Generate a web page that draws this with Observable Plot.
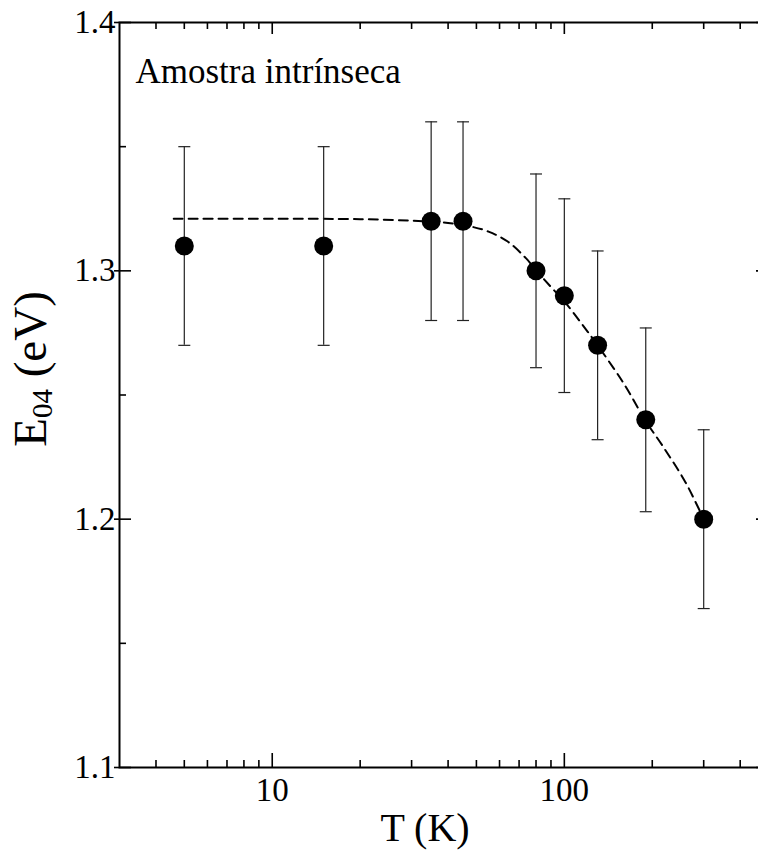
<!DOCTYPE html>
<html><head><meta charset="utf-8">
<script src="https://cdn.jsdelivr.net/npm/d3@7"></script>
<script src="https://cdn.jsdelivr.net/npm/@observablehq/plot@0.6"></script>
<style>
html,body{margin:0;padding:0;background:#fff;overflow:hidden;}
svg{max-width:none !important;}
</style>
</head><body><div id="chart"></div>
<script>
// Measured data
const temperatures = [5, 15, 35, 45, 80, 100, 130, 190, 300];
const energies     = [1.310, 1.310, 1.320, 1.320, 1.300, 1.290, 1.270, 1.240, 1.200];
const errors       = [0.040, 0.040, 0.040, 0.040, 0.039, 0.039, 0.038, 0.037, 0.036];
// Dashed fit curve
const fitT = [4.6, 10, 20, 30, 40, 48, 55, 64, 74, 80, 90, 100, 115, 130, 160, 190, 219, 260, 300];
const fitE = [1.3210, 1.3210, 1.3208, 1.3202, 1.3193, 1.3178, 1.3158, 1.3118, 1.3050, 1.3003, 1.2935, 1.2877, 1.2785, 1.2700, 1.2545, 1.2395, 1.2288, 1.2148, 1.2000];
// Ticks
const xMajorTicks = [10, 100];
const xMinorTicks = [4, 5, 6, 7, 8, 9, 20, 30, 40, 50, 60, 70, 80, 90, 200, 300, 400];
const yMajorTicks = [1.1, 1.2, 1.3, 1.4];
const yMinorTicks = [1.15, 1.25, 1.35];
const xLabel = "T (K)";
const yLabel = "E04 (eV)";
const note = "Amostra intrínseca";

const points = temperatures.map((T, i) => ({T, E: energies[i], err: errors[i]}));
const fit = fitT.map((T, i) => ({T, E: fitE[i]}));

const W = 790, H = 850, mL = 119, mR = 22, mT = 22, mB = 83;
const innerW = W - mL - mR, innerH = H - mT - mB;
const font = "Liberation Serif";
const capSymbol = {draw(ctx, size) { const w = Math.sqrt(size / Math.PI); ctx.moveTo(-w, 0); ctx.lineTo(w, 0); }};

const chart = Plot.plot({
  width: W, height: H,
  marginLeft: mL, marginRight: mR, marginTop: mT, marginBottom: mB,
  style: {fontFamily: font, background: "white", color: "black", maxWidth: "none"},
  x: {type: "log", domain: [3, 500]},
  y: {domain: [1.1, 1.4]},
  marks: [
    Plot.line(fit, {x: "T", y: "E", curve: "catmull-rom", stroke: "black", strokeWidth: 2, strokeDasharray: "9,6"}),
    Plot.ruleX(points, {x: "T", y1: d => d.E - d.err, y2: d => d.E + d.err, stroke: "#222", strokeWidth: 1.2}),
    Plot.dot(points, {x: "T", y: d => d.E + d.err, symbol: capSymbol, r: 6, stroke: "#222", fill: "none", strokeWidth: 1.2}),
    Plot.dot(points, {x: "T", y: d => d.E - d.err, symbol: capSymbol, r: 6, stroke: "#222", fill: "none", strokeWidth: 1.2}),
    Plot.dot(points, {x: "T", y: "E", r: 9.5, fill: "black", stroke: "none"}),
    // inward ticks
    Plot.tickX(xMajorTicks, {x: d => d, insetTop: innerH - 14, stroke: "black", strokeWidth: 1.6}),
    Plot.tickX(xMajorTicks, {x: d => d, insetBottom: innerH - 12, stroke: "black", strokeWidth: 1.6}),
    Plot.tickX(xMinorTicks, {x: d => d, insetTop: innerH - 7, stroke: "black", strokeWidth: 1.6}),
    Plot.tickX(xMinorTicks, {x: d => d, insetBottom: innerH - 7, stroke: "black", strokeWidth: 1.6}),
    Plot.tickY(yMajorTicks, {y: d => d, insetLeft: -5, insetRight: innerW - 12, stroke: "black", strokeWidth: 1.6}),
    Plot.tickY(yMajorTicks, {y: d => d, insetLeft: innerW - 12, stroke: "black", strokeWidth: 1.6}),
    Plot.tickY(yMinorTicks, {y: d => d, insetRight: innerW - 7, stroke: "black", strokeWidth: 1.6}),
    Plot.tickY(yMinorTicks, {y: d => d, insetLeft: innerW - 7, stroke: "black", strokeWidth: 1.6}),
    Plot.frame({stroke: "black", strokeWidth: 2}),
    Plot.axisX({ticks: xMajorTicks, tickSize: 0, tickPadding: 10, fontSize: 33, fontFamily: font, tickFormat: d => String(d), label: null, fill: "black"}),
    Plot.axisY({ticks: yMajorTicks, tickSize: 0, tickPadding: 4, fontSize: 33, fontFamily: font, tickFormat: d => d.toFixed(1), label: null, fill: "black"}),
    Plot.text([note], {frameAnchor: "top-left", textAnchor: "start", lineAnchor: "bottom", dx: 16, dy: 60, fontSize: 35, fontFamily: font, fill: "black"}),
    Plot.text([xLabel], {frameAnchor: "bottom", textAnchor: "middle", lineAnchor: "bottom", dx: -19, dy: 73, fontSize: 40, fontFamily: font, fill: "black"}),
    Plot.text([yLabel], {frameAnchor: "left", textAnchor: "middle", lineAnchor: "middle", rotate: -90, dx: -89, dy: -26, fontSize: 47, fontFamily: font, fill: "black"})
  ]
});
document.getElementById("chart").appendChild(chart);

// subscript for E04
chart.querySelectorAll("text").forEach(t => {
  if (t.textContent === yLabel) {
    t.textContent = "";
    const ns = "http://www.w3.org/2000/svg";
    const a = document.createElementNS(ns, "tspan"); a.textContent = "E";
    const b = document.createElementNS(ns, "tspan"); b.textContent = "04"; b.setAttribute("font-size", "29"); b.setAttribute("dy", "6");
    const c = document.createElementNS(ns, "tspan"); c.textContent = " (eV)"; c.setAttribute("dy", "-6");
    t.append(a, b, c);
  }
});
</script></body></html>
